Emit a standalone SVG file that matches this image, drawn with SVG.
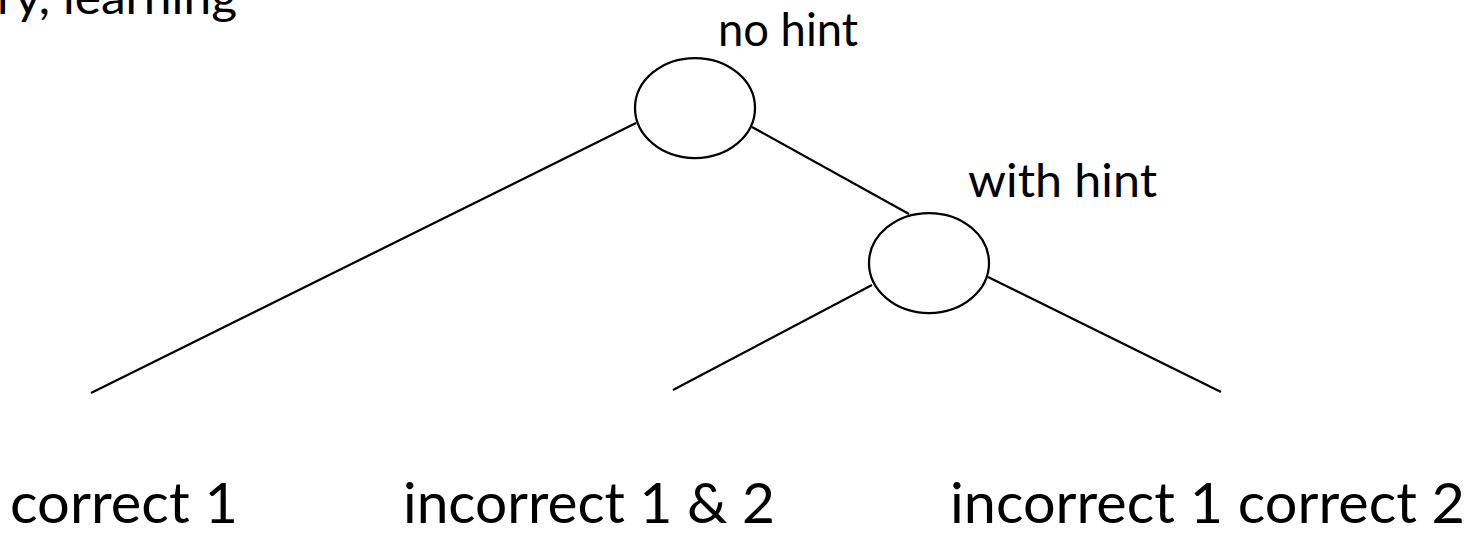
<svg xmlns="http://www.w3.org/2000/svg" width="1470" height="534" viewBox="0 0 1470 534">
<style>
.t{font-family:Lato,"Open Sans","Liberation Sans",sans-serif;fill:#000}
.s{font-size:46px}
.b{font-size:56px}
.e{fill:#fff;stroke:#000;stroke-width:2.25}
.c line{stroke:#000;stroke-width:2.25}
</style>
<rect width="1470" height="534" fill="#fff"/>
<text class="t s" x="-3" y="14" textLength="240" lengthAdjust="spacingAndGlyphs">ry, learning</text>
<g id="connectors" class="c">
<line x1="636" y1="123" x2="91" y2="393"/>
<line x1="752" y1="127" x2="909" y2="214"/>
<line x1="872" y1="285" x2="673" y2="390"/>
<line x1="988" y1="277" x2="1221" y2="392"/>
</g>
<g id="node-root">
<ellipse class="e" cx="695" cy="108" rx="60" ry="50"/>
<text class="t s" x="718" y="46" textLength="140" lengthAdjust="spacingAndGlyphs">no hint</text>
</g>
<g id="node-hint">
<ellipse class="e" cx="929" cy="263" rx="60" ry="50"/>
<text class="t s" x="968" y="197" textLength="189" lengthAdjust="spacingAndGlyphs">with hint</text>
</g>
<g id="leaf-1">
<text class="t b" x="10" y="523" textLength="228" lengthAdjust="spacingAndGlyphs">correct 1</text>
</g>
<g id="leaf-2">
<text class="t b" x="403" y="523" textLength="372" lengthAdjust="spacingAndGlyphs">incorrect 1 &amp; 2</text>
</g>
<g id="leaf-3">
<text class="t b" x="950" y="523" textLength="515" lengthAdjust="spacingAndGlyphs">incorrect 1 correct 2</text>
</g>
</svg>
